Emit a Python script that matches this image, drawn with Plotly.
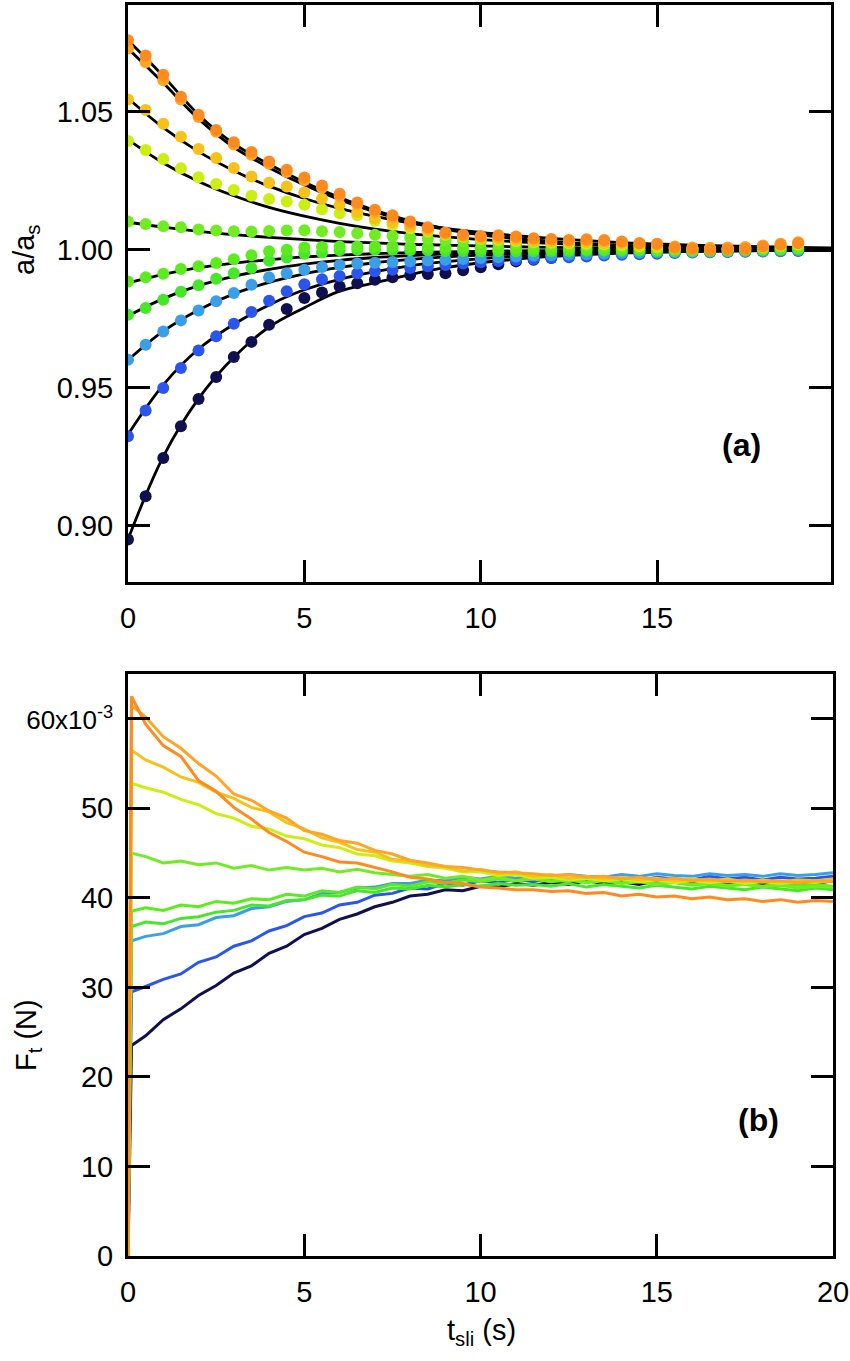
import plotly.graph_objects as go

# ---------------- panel (a) data ----------------
T_A = [0, 0.5, 1, 1.5, 2, 2.5, 3, 3.5, 4, 4.5, 5, 5.5, 6, 6.5, 7, 7.5, 8, 8.5, 9, 9.5,
       10, 10.5, 11, 11.5, 12, 12.5, 13, 13.5, 14, 14.5, 15, 15.5, 16, 16.5, 17, 17.5, 18, 18.5, 19]

A_NAVY = [0.8949, 0.9106, 0.9245, 0.9360, 0.9459, 0.9539, 0.9611, 0.9666, 0.9728, 0.9785, 0.9825, 0.9845,
          0.9867, 0.9879, 0.9891, 0.9900, 0.9909, 0.9912, 0.9915, 0.9926, 0.9937, 0.9948, 0.9958, 0.9964,
          0.9970, 0.9976, 0.9982, 0.9985, 0.9988, 0.9989, 0.9990, 0.9991, 0.9992, 0.9993, 0.9994, 0.9995,
          0.9996, 0.9997, 0.9998]
A_BLUE = [0.9324, 0.9417, 0.9499, 0.9571, 0.9635, 0.9686, 0.9732, 0.9774, 0.9815, 0.9850, 0.9875, 0.9893,
          0.9905, 0.9915, 0.9922, 0.9928, 0.9934, 0.9940, 0.9945, 0.9950, 0.9955, 0.9959, 0.9963, 0.9967,
          0.9970, 0.9973, 0.9976, 0.9979, 0.9982, 0.9984, 0.9986, 0.9988, 0.9990, 0.9991, 0.9992, 0.9993,
          0.9994, 0.9995, 0.9996]
A_LBLUE = [0.9601, 0.9656, 0.9704, 0.9744, 0.9780, 0.9813, 0.9843, 0.9873, 0.9900, 0.9915, 0.9928, 0.9938,
           0.9945, 0.9950, 0.9953, 0.9956, 0.9958, 0.9961, 0.9964, 0.9967, 0.9970, 0.9973, 0.9976, 0.9978,
           0.9980, 0.9982, 0.9984, 0.9986, 0.9988, 0.9989, 0.9990, 0.9991, 0.9992, 0.9993, 0.9994, 0.9995,
           0.9996, 0.9997, 0.9998]
A_G4 = [0.9764, 0.9789, 0.9819, 0.9848, 0.9871, 0.9895, 0.9915, 0.9934, 0.9960, 0.9972, 0.9986, 0.9990,
        0.9998, 1.0000, 1.0000, 1.0000, 0.9998, 0.9998, 0.9996, 0.9996, 0.9995, 0.9995, 0.9995, 0.9995,
        0.9996, 0.9996, 0.9997, 0.9997, 0.9997, 0.9997, 0.9996, 0.9995, 0.9995, 0.9995, 0.9996, 0.9997,
        0.9999, 1.0001, 1.0003]
A_G5 = [0.9885, 0.9900, 0.9913, 0.9930, 0.9940, 0.9952, 0.9966, 0.9980, 0.9995, 1.0000, 1.0008, 1.0010,
        1.0012, 1.0012, 1.0012, 1.0012, 1.0010, 1.0010, 1.0008, 1.0008, 1.0006, 1.0006, 1.0005, 1.0004,
        1.0004, 1.0003, 1.0003, 1.0002, 1.0002, 1.0001, 1.0000, 0.9999, 0.9998, 0.9998, 0.9999, 1.0000,
        1.0002, 1.0004, 1.0006]
A_G6 = [1.0103, 1.0094, 1.0085, 1.0082, 1.0074, 1.0070, 1.0067, 1.0066, 1.0068, 1.0070, 1.0071, 1.0067,
        1.0065, 1.0060, 1.0055, 1.0050, 1.0045, 1.0040, 1.0035, 1.0032, 1.0028, 1.0025, 1.0022, 1.0020,
        1.0018, 1.0016, 1.0014, 1.0012, 1.0010, 1.0008, 1.0006, 1.0004, 1.0003, 1.0002, 1.0002, 1.0003,
        1.0006, 1.0010, 1.0014]
A_YG = [1.0395, 1.0362, 1.0329, 1.0296, 1.0263, 1.0239, 1.0217, 1.0196, 1.0184, 1.0175, 1.0163, 1.0147,
        1.0133, 1.0125, 1.0105, 1.0091, 1.0078, 1.0066, 1.0055, 1.0047, 1.0040, 1.0036, 1.0032, 1.0028,
        1.0026, 1.0024, 1.0022, 1.0020, 1.0017, 1.0014, 1.0011, 1.0006, 1.0003, 1.0002, 1.0003, 1.0005,
        1.0010, 1.0015, 1.0020]
A_YO = [1.0545, 1.0507, 1.0457, 1.0410, 1.0366, 1.0333, 1.0297, 1.0266, 1.0243, 1.0230, 1.0208, 1.0185,
        1.0163, 1.0137, 1.0114, 1.0100, 1.0085, 1.0070, 1.0057, 1.0050, 1.0043, 1.0040, 1.0036, 1.0032,
        1.0030, 1.0027, 1.0027, 1.0025, 1.0022, 1.0018, 1.0015, 1.0008, 1.0005, 1.0004, 1.0005, 1.0008,
        1.0013, 1.0020, 1.0026]
A_LO = [1.0730, 1.0680, 1.0615, 1.0545, 1.0482, 1.0428, 1.0382, 1.0345, 1.0312, 1.0282, 1.0252, 1.0225,
        1.0195, 1.0165, 1.0138, 1.0118, 1.0095, 1.0077, 1.0060, 1.0052, 1.0047, 1.0048, 1.0044, 1.0040,
        1.0036, 1.0034, 1.0034, 1.0032, 1.0028, 1.0025, 1.0020, 1.0012, 1.0008, 1.0007, 1.0008, 1.0010,
        1.0016, 1.0022, 1.0027]
A_DO = [1.0760, 1.0705, 1.0635, 1.0555, 1.0490, 1.0435, 1.0390, 1.0355, 1.0320, 1.0290, 1.0262, 1.0233,
        1.0203, 1.0172, 1.0145, 1.0125, 1.0103, 1.0082, 1.0063, 1.0055, 1.0050, 1.0053, 1.0048, 1.0042,
        1.0039, 1.0036, 1.0038, 1.0036, 1.0030, 1.0024, 1.0022, 1.0007, 1.0003, 1.0000, 1.0002, 1.0003,
        1.0012, 1.0018, 1.0024]

# fitted relaxation curves (read at 1 s steps)
T_FIT = [0, 1, 2, 3, 4, 5, 6, 7, 8, 9, 10, 11, 12, 13, 14, 15, 16, 17, 18, 19, 20]
F_NAVY = [0.895, 0.925, 0.946, 0.961, 0.972, 0.979, 0.985, 0.988, 0.991, 0.9935, 0.9953, 0.9966, 0.9976,
          0.9983, 0.9988, 0.9991, 0.9994, 0.9995, 0.9997, 0.9998, 0.9998]
F_BLUE = [0.933, 0.951, 0.964, 0.973, 0.980, 0.9855, 0.9893, 0.9921, 0.9942, 0.9957, 0.9968, 0.9977, 0.9983,
          0.9987, 0.9991, 0.9993, 0.9995, 0.9996, 0.9997, 0.9998, 0.9998]
F_LBLUE = [0.960, 0.9705, 0.9782, 0.984, 0.9882, 0.9913, 0.9936, 0.9953, 0.9965, 0.9974, 0.9981, 0.9986,
           0.999, 0.9992, 0.9994, 0.9996, 0.9997, 0.9998, 0.9998, 0.9999, 0.9999]
F_G4 = [0.976, 0.9823, 0.987, 0.9904, 0.9929, 0.9948, 0.9962, 0.9972, 0.9979, 0.9985, 0.9989, 0.9992, 0.9994,
        0.9995, 0.9997, 0.9997, 0.9998, 0.9999, 0.9999, 0.9999, 1.0]
F_G5 = [0.988, 0.9911, 0.9935, 0.9952, 0.9964, 0.9974, 0.9981, 0.9986, 0.999, 0.9992, 0.9994, 0.9996, 0.9997,
        0.9998, 0.9998, 0.9999, 0.9999, 1.0, 1.0, 1.0, 1.0]
F_G6 = [1.010, 1.0082, 1.0067, 1.0055, 1.0045, 1.0037, 1.003, 1.0025, 1.002, 1.0017, 1.0014, 1.0011, 1.0009,
        1.0007, 1.0006, 1.0005, 1.0004, 1.0003, 1.0003, 1.0002, 1.0002]
F_YG = [1.040, 1.0315, 1.0248, 1.0196, 1.0154, 1.0122, 1.0096, 1.0075, 1.0059, 1.0047, 1.0037, 1.0029, 1.0023,
        1.0018, 1.0014, 1.0011, 1.0009, 1.0007, 1.0005, 1.0004, 1.0003]
F_YO = [1.055, 1.0443, 1.0356, 1.0287, 1.0231, 1.0186, 1.015, 1.0121, 1.0097, 1.0078, 1.0063, 1.0051, 1.0041,
        1.0033, 1.0026, 1.0021, 1.0017, 1.0014, 1.0011, 1.0009, 1.0007]
F_LO = [1.073, 1.0605, 1.0475, 1.0372, 1.0298, 1.0235, 1.0182, 1.0137, 1.0101, 1.0074, 1.0054, 1.004, 1.0029,
        1.0021, 1.0015, 1.0011, 1.0008, 1.0006, 1.0004, 1.0003, 1.0002]
F_DO = [1.076, 1.0630, 1.0490, 1.0385, 1.0310, 1.0245, 1.019, 1.0143, 1.0105, 1.0077, 1.0056, 1.0041, 1.003,
        1.0022, 1.0016, 1.0012, 1.0009, 1.0006, 1.0005, 1.0003, 1.0002]

# ---------------- panel (b) data (units of 1e-3 N) ----------------
T_B = [0, 0.1, 0.5, 1, 1.5, 2, 2.5, 3, 3.5, 4, 4.5, 5, 5.5, 6, 6.5, 7, 7.5, 8, 8.5, 9, 9.5, 10,
       10.5, 11, 11.5, 12, 12.5, 13, 13.5, 14, 14.5, 15, 15.5, 16, 16.5, 17, 17.5, 18, 18.5, 19, 19.5, 20]

B_NAVY = [0, 23.5, 24.6, 26.4, 27.6, 29.1, 30.2, 31.6, 32.4, 33.8, 34.6, 35.9, 36.6, 37.6, 38.2, 39.0, 39.5,
          40.2, 40.4, 40.9, 40.8, 41.3, 41.2, 41.6, 41.4, 41.7, 41.5, 41.9, 41.6, 41.8, 41.5, 41.9, 41.7, 41.6,
          41.9, 41.6, 41.8, 41.5, 41.8, 41.7, 41.6, 41.9]
B_BLUE = [0, 29.5, 30.1, 30.9, 31.5, 32.8, 33.4, 34.6, 35.2, 36.3, 36.9, 37.9, 38.3, 39.2, 39.5, 40.3, 40.5,
          41.1, 41.0, 41.6, 41.4, 41.9, 41.7, 42.1, 41.8, 42.2, 41.9, 42.3, 42.0, 42.2, 41.9, 42.3, 42.1, 42.0,
          42.4, 42.1, 42.3, 42.0, 42.3, 42.1, 42.2, 42.4]
B_LBLUE = [0, 35.2, 35.7, 36.0, 36.8, 37.0, 37.8, 38.0, 38.8, 39.0, 39.6, 39.8, 40.5, 40.6, 41.1, 41.2, 41.6,
           41.6, 42.0, 41.9, 42.3, 42.1, 42.4, 42.2, 42.5, 42.3, 42.6, 42.4, 42.3, 42.6, 42.4, 42.7, 42.5, 42.4,
           42.7, 42.5, 42.6, 42.4, 42.7, 42.5, 42.6, 42.8]
B_G4 = [0, 36.8, 37.3, 37.1, 37.7, 37.9, 38.4, 38.6, 39.2, 39.1, 39.7, 39.8, 40.3, 40.2, 40.8, 40.6, 41.1,
        41.0, 41.4, 41.2, 41.5, 41.3, 41.6, 41.4, 41.5, 41.3, 41.6, 41.2, 41.5, 41.3, 41.1, 41.4, 41.2, 41.0,
        41.3, 41.1, 40.9, 41.2, 41.0, 40.8, 41.1, 40.9]
B_G5 = [0, 38.5, 38.9, 38.6, 39.2, 39.0, 39.6, 39.4, 39.9, 39.8, 40.4, 40.2, 40.8, 40.6, 41.2, 41.0, 41.5,
        41.3, 41.8, 41.6, 42.0, 41.8, 42.1, 41.9, 42.2, 41.9, 42.1, 41.8, 42.0, 41.7, 41.9, 41.6, 41.8, 41.5,
        41.7, 41.4, 41.6, 41.3, 41.6, 41.4, 41.5, 41.3]
B_G6 = [0, 45.0, 44.6, 43.9, 44.1, 43.7, 43.9, 43.3, 43.6, 43.1, 43.4, 43.1, 43.3, 42.9, 43.2, 42.8, 42.6,
        42.4, 42.6, 42.2, 42.4, 42.0, 42.3, 41.9, 42.1, 41.8, 42.0, 41.7, 41.9, 41.6, 41.8, 41.5, 41.7, 41.4,
        41.6, 41.3, 41.5, 41.2, 41.4, 41.1, 41.3, 41.2]
B_YG = [0, 52.8, 52.3, 51.8, 51.0, 50.4, 49.4, 48.9, 48.0, 47.7, 46.9, 46.6, 45.9, 45.6, 44.9, 44.7, 44.1,
        43.9, 43.5, 43.3, 42.9, 42.9, 42.5, 42.6, 42.2, 42.3, 42.0, 42.2, 41.9, 42.1, 41.8, 42.0, 41.7, 41.9,
        41.7, 41.9, 41.6, 41.8, 41.6, 41.8, 41.7, 41.9]
B_YO = [0, 56.5, 55.4, 54.6, 53.5, 52.9, 51.8, 51.1, 50.1, 49.6, 48.4, 47.7, 46.7, 46.2, 45.4, 45.1, 44.3,
        44.1, 43.6, 43.5, 43.0, 43.2, 42.7, 42.9, 42.4, 42.6, 42.2, 42.4, 42.1, 42.3, 42.0, 42.2, 41.9, 42.1,
        41.9, 42.1, 41.8, 42.0, 41.8, 42.0, 41.9, 42.1]
B_LO = [0, 61.5, 60.2, 58.0, 56.7, 55.0, 53.6, 51.6, 50.9, 49.7, 48.9, 47.5, 47.1, 46.4, 46.1, 45.3, 44.9,
        44.2, 43.9, 43.5, 43.4, 43.1, 42.9, 42.8, 42.7, 42.5, 42.6, 42.3, 42.4, 42.1, 42.3, 42.0, 42.2, 41.9,
        42.1, 41.8, 42.0, 41.8, 41.9, 41.7, 41.9, 41.8]
B_DO = [0, 62.5, 59.4, 57.0, 55.8, 53.1, 51.9, 50.1, 48.8, 47.3, 46.3, 45.1, 44.6, 44.0, 43.9, 43.4, 42.9,
        42.3, 42.1, 41.7, 41.6, 41.2, 41.1, 40.9, 40.9, 40.7, 40.8, 40.5, 40.6, 40.2, 40.4, 40.1, 40.2, 39.9,
        40.1, 39.8, 39.9, 39.6, 39.8, 39.5, 39.7, 39.6]

COLORS = ["#10104f", "#2a56ee", "#3a9fe6", "#48e62a", "#5cec1e", "#72ec22",
          "#cdee12", "#f6c21a", "#ffa526", "#ff8b1e"]

A_SERIES = [A_NAVY, A_BLUE, A_LBLUE, A_G4, A_G5, A_G6, A_YG, A_YO, A_LO, A_DO]
F_SERIES = [F_NAVY, F_BLUE, F_LBLUE, F_G4, F_G5, F_G6, F_YG, F_YO, F_LO, F_DO]
B_SERIES = [B_NAVY, B_BLUE, B_LBLUE, B_G4, B_G5, B_G6, B_YG, B_YO, B_LO, B_DO]

A_XTICKS = [0, 5, 10, 15]
A_YTICKS = [0.90, 0.95, 1.00, 1.05]
B_XTICKS = [0, 5, 10, 15, 20]
B_YTICKS = [0, 10, 20, 30, 40, 50, 60]
B_YTICKTEXT = ["0", "10", "20", "30", "40", "50",
               "<span style='font-size:26px'>60x10<sup>-3</sup></span>"]

FONT = "Liberation Sans, Arial, Helvetica, sans-serif"
W, H = 850, 1361


def px_x(v):
    return v / W


def px_y(v):
    return 1 - v / H


fig = go.Figure()

for f in F_SERIES:
    fig.add_trace(go.Scatter(x=T_FIT, y=f, mode="lines", line=dict(color="black", width=2.8, shape="spline"),
                             xaxis="x", yaxis="y", showlegend=False, hoverinfo="skip"))
for a, c in zip(A_SERIES, COLORS):
    fig.add_trace(go.Scatter(x=T_A, y=a, mode="markers", marker=dict(color=c, size=12, line=dict(width=0)),
                             xaxis="x", yaxis="y", showlegend=False))

for b, c in zip(B_SERIES, COLORS):
    fig.add_trace(go.Scatter(x=T_B, y=b, mode="lines", line=dict(color=c, width=3),
                             xaxis="x2", yaxis="y2", showlegend=False))

axis_common = dict(showline=True, linecolor="black", linewidth=3, mirror="ticks", ticks="inside",
                   ticklen=22, tickwidth=3, tickcolor="black", showgrid=False, zeroline=False,
                   automargin=False, tickfont=dict(family=FONT, size=29, color="black"))

fig.update_layout(
    width=W, height=H, margin=dict(l=0, r=0, t=0, b=0, pad=0), autosize=False,
    paper_bgcolor="white", plot_bgcolor="white",
    xaxis=dict(domain=[px_x(128), px_x(831)], range=[0, 19.93], tickvals=A_XTICKS, anchor="y",
               ticklabelstandoff=8, **axis_common),
    yaxis=dict(domain=[px_y(582), px_y(5)], range=[0.8795, 1.0888], tickvals=A_YTICKS,
               tickformat=".2f", anchor="x", ticklabelstandoff=6, **axis_common),
    xaxis2=dict(domain=[px_x(128), px_x(833)], range=[0, 20], tickvals=B_XTICKS, anchor="y2",
                ticklabelstandoff=8, **axis_common),
    yaxis2=dict(domain=[px_y(1256), px_y(674)], range=[0, 65], tickvals=B_YTICKS,
                ticktext=B_YTICKTEXT, anchor="x2", ticklabelstandoff=6, **axis_common),
)

ann_font = dict(family=FONT, size=29, color="black")
center = dict(xref="paper", yref="paper", xanchor="center", yanchor="middle", showarrow=False)
fig.add_annotation(text="a/a<sub>s</sub>", x=px_x(26), y=px_y(250), textangle=-90, font=ann_font, **center)
fig.add_annotation(text="F<sub>t</sub> (N)", x=px_x(28), y=px_y(1035), textangle=-90, font=ann_font, **center)
fig.add_annotation(text="t<sub>sli</sub> (s)", x=px_x(482), y=px_y(1332), font=ann_font, **center)
fig.add_annotation(text="<b>(a)</b>", x=px_x(741), y=px_y(445), font=dict(family=FONT, size=32, color="black"),
                   **center)
fig.add_annotation(text="<b>(b)</b>", x=px_x(758), y=px_y(1120), font=dict(family=FONT, size=32, color="black"),
                   **center)

fig.write_html("out.html", config={"displayModeBar": False},
               post_script="document.body.style.margin='0';")
